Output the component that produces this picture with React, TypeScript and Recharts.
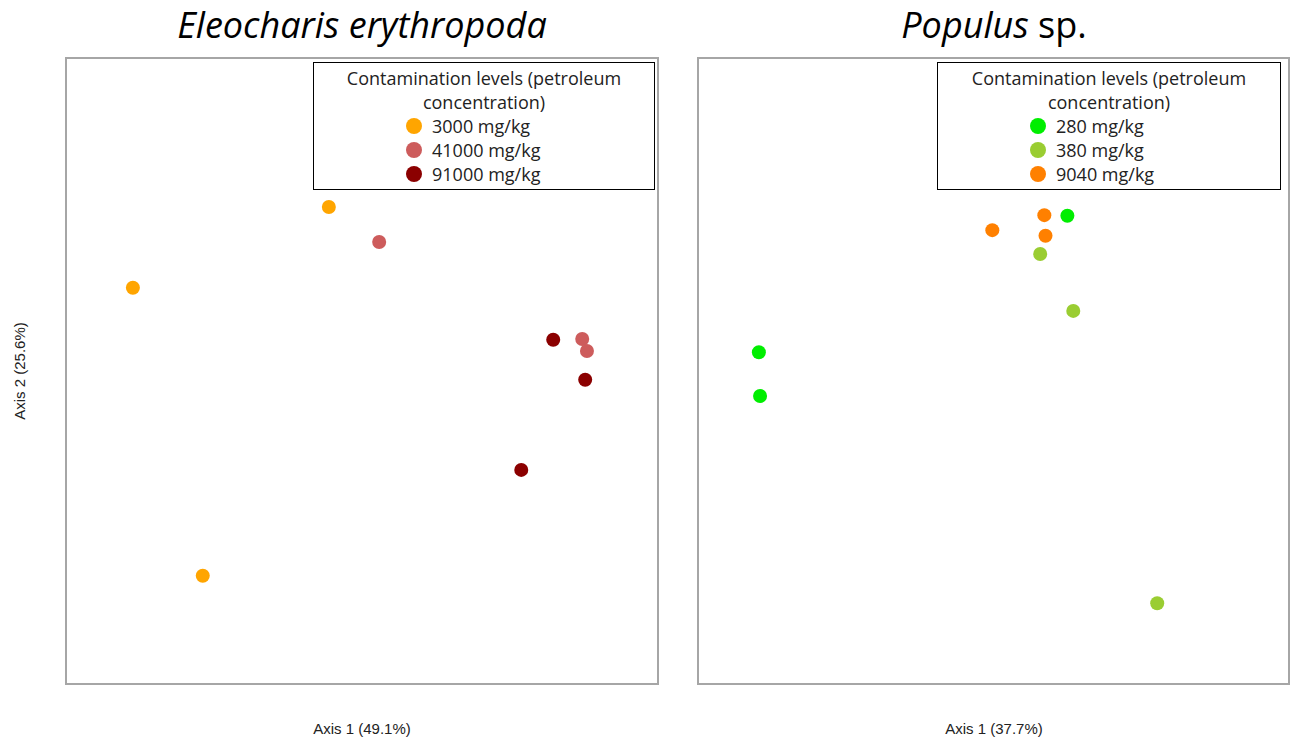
import React from "react";
import { ScatterChart, Scatter, XAxis, YAxis, ReferenceArea } from "recharts";

// ordination scores (both axes scaled 0-100)
const eleo3000 = [
  { x: 44.4, y: 76.2 },
  { x: 11.3, y: 63.3 },
  { x: 23.1, y: 17.3 },
];
const eleo41000 = [
  { x: 52.9, y: 70.6 },
  { x: 87.2, y: 55.1 },
  { x: 88.0, y: 53.2 },
];
const eleo91000 = [
  { x: 82.3, y: 55.0 },
  { x: 87.7, y: 48.6 },
  { x: 76.9, y: 34.2 },
];
const pop280 = [
  { x: 62.5, y: 74.8 },
  { x: 10.3, y: 53.0 },
  { x: 10.5, y: 46.0 },
];
const pop380 = [
  { x: 57.9, y: 68.7 },
  { x: 63.5, y: 59.6 },
  { x: 77.7, y: 12.9 },
];
const pop9040 = [
  { x: 49.8, y: 72.5 },
  { x: 58.6, y: 74.9 },
  { x: 58.8, y: 71.6 },
];

type Series = { name: string; color: string; data: { x: number; y: number }[] };

const eleoSeries: Series[] = [
  { name: "3000 mg/kg", color: "#FFA500", data: eleo3000 },
  { name: "41000 mg/kg", color: "#CD5C5C", data: eleo41000 },
  { name: "91000 mg/kg", color: "#8B0000", data: eleo91000 },
];
const popSeries: Series[] = [
  { name: "280 mg/kg", color: "#00EE00", data: pop280 },
  { name: "380 mg/kg", color: "#9ACD32", data: pop380 },
  { name: "9040 mg/kg", color: "#FF8000", data: pop9040 },
];

const sans = "'Open Sans', sans-serif";
const arial = "'Liberation Sans', Arial, sans-serif";

function Dot(props: any) {
  return <circle cx={props.cx} cy={props.cy} r={7} fill={props.fill} />;
}

function Panel({ series, width, left }: { series: Series[]; width: number; left: number }) {
  return (
    <div style={{ position: "absolute", left: 0, top: 0 }}>
      <ScatterChart
        width={width}
        height={740}
        margin={{ top: 58, left: left, right: 3, bottom: 56 }}
      >
        <XAxis type="number" dataKey="x" domain={[0, 100]} hide />
        <YAxis type="number" dataKey="y" domain={[0, 100]} hide />
        <ReferenceArea x1={0} x2={100} y1={0} y2={100} fill="none" stroke="#a6a6a6" strokeWidth={2} />
        {series.map((s) => (
          <Scatter
            key={s.name}
            data={s.data}
            fill={s.color}
            shape={Dot}
            isAnimationActive={false}
          />
        ))}
      </ScatterChart>
    </div>
  );
}

function LegendBox({ series, left, width }: { series: Series[]; left: number; width: number }) {
  return (
    <div
      style={{
        position: "absolute",
        left,
        top: 62,
        width,
        height: 128,
        boxSizing: "border-box",
        border: "1px solid #000",
        background: "#fff",
        fontFamily: sans,
        fontSize: 18,
        color: "#222",
        lineHeight: "24px",
        paddingTop: 3,
      }}
    >
      <div style={{ textAlign: "center" }}>Contamination levels (petroleum</div>
      <div style={{ textAlign: "center" }}>concentration)</div>
      {series.map((s) => (
        <div key={s.name} style={{ display: "flex", alignItems: "center", paddingLeft: 92 }}>
          <span
            style={{
              display: "inline-block",
              width: 16,
              height: 16,
              borderRadius: 8,
              background: s.color,
              marginRight: 10,
            }}
          />
          <span>{s.name}</span>
        </div>
      ))}
    </div>
  );
}

export default function App() {
  return (
    <div style={{ position: "absolute", left: 0, top: 0, width: 1292, height: 740, background: "#fff" }}>
      <div
        style={{
          position: "absolute",
          left: 66,
          width: 592,
          top: 0,
          textAlign: "center",
          fontFamily: sans,
          fontStyle: "italic",
          fontSize: 36,
          color: "#000",
        }}
      >
        Eleocharis erythropoda
      </div>
      <div
        style={{
          position: "absolute",
          left: 698,
          width: 592,
          top: 0,
          textAlign: "center",
          fontFamily: sans,
          fontSize: 36,
          color: "#000",
        }}
      >
        <i>Populus</i> sp.
      </div>

      <Panel series={eleoSeries} width={661} left={66} />
      <div style={{ position: "absolute", left: 0, top: 0 }}>
        <Panel series={popSeries} width={1292} left={698} />
      </div>

      <LegendBox series={eleoSeries} left={313} width={342} />
      <LegendBox series={popSeries} left={937} width={344} />

      <div
        style={{
          position: "absolute",
          left: 66,
          width: 592,
          top: 720,
          textAlign: "center",
          fontFamily: arial,
          fontSize: 15,
          color: "#222",
        }}
      >
        Axis 1 (49.1%)
      </div>
      <div
        style={{
          position: "absolute",
          left: 698,
          width: 592,
          top: 720,
          textAlign: "center",
          fontFamily: arial,
          fontSize: 15,
          color: "#222",
        }}
      >
        Axis 1 (37.7%)
      </div>
      <div
        style={{
          position: "absolute",
          left: 19,
          top: 371,
          transform: "translate(-50%, -50%) rotate(-90deg)",
          whiteSpace: "nowrap",
          fontFamily: arial,
          fontSize: 15,
          color: "#222",
        }}
      >
        Axis 2 (25.6%)
      </div>
    </div>
  );
}
